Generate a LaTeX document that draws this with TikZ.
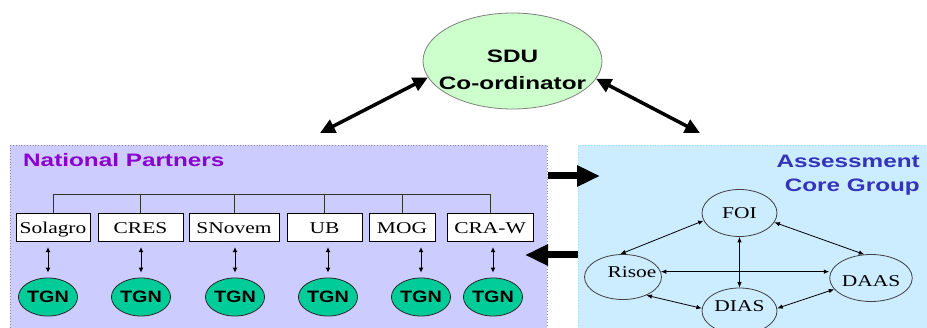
\documentclass[tikz,border=0pt]{standalone}
\usepackage{fontspec}
\setmainfont{Liberation Serif}[FakeStretch=1.3]
\newfontfamily\sfb{Liberation Sans}[FakeStretch=1.35]
\newfontfamily\tgnfont{Liberation Sans}[FakeStretch=1.2]
\usetikzlibrary{shapes.geometric,arrows.meta}
\definecolor{npfill}{HTML}{CCCCFF}
\definecolor{acgfill}{HTML}{CCECFF}
\definecolor{sdufill}{HTML}{CCFFCC}
\definecolor{tgnfill}{HTML}{00CC99}
\definecolor{nptitle}{HTML}{8A00CC}
\definecolor{acgtitle}{HTML}{3333BB}
\tikzset{
  panel/.style={rectangle, anchor=north west, inner sep=0pt, dotted, line width=0.8pt},
  pbox/.style={rectangle, draw=black, line width=0.8pt, fill=white, minimum height=28.5pt,
    inner sep=0pt, text height=13pt, text depth=0pt, font=\fontsize{16.5}{18}\selectfont},
  tgn/.style={ellipse, draw=black!85, line width=0.8pt, fill=tgnfill, inner sep=0pt,
    minimum width=59pt, minimum height=38pt, font=\tgnfont\bfseries\fontsize{16.5}{18}\selectfont},
  gnode/.style={ellipse, draw=black!75, line width=0.8pt, inner sep=0pt,
    minimum width=75pt, minimum height=47pt, font=\fontsize{16.5}{18}\selectfont},
  sarr/.style={line width=1pt, {Latex[length=5pt,width=5pt]}-{Latex[length=5pt,width=5pt]}},
  garr/.style={line width=0.8pt, {Latex[length=5.5pt,width=4.5pt]}-{Latex[length=5.5pt,width=4.5pt]}},
  sduarr/.style={line width=3.5pt, {Triangle[length=15pt,width=14pt]}-{Triangle[length=15pt,width=14pt]}},
  bigarr/.style={line width=7pt, -{Triangle[length=23pt,width=20pt]}},
  titlefont/.style={font=\sfb\bfseries\fontsize{18}{24}\selectfont}
}
\begin{document}
\begin{tikzpicture}[x=1pt,y=-1pt]
\clip (0,0) rectangle (927,328);
\fill[white] (0,0) rectangle (927,328);

% panels
\node[panel, draw=black!45, fill=npfill, minimum width=537pt, minimum height=195pt] (NP) at (10,145) {};
\node[panel, draw=cyan!40, fill=acgfill, minimum width=360pt, minimum height=195pt] (ACG) at (578,145) {};

% titles
\node[titlefont, text=nptitle, anchor=base west, inner sep=0pt] (NPt) at (23,167) {National Partners};
\node[titlefont, text=acgtitle, anchor=north east, inner sep=0pt, align=right] (ACGt) at (920,155) {Assessment\\Core Group};

% SDU
\node[ellipse, draw=black!50, line width=0.8pt, fill=sdufill, minimum width=179pt, minimum height=96pt, inner sep=0pt] (SDU) at (512.5,61) {};
\node[anchor=north, inner sep=0pt, align=center, font=\sfb\bfseries\fontsize{18}{27}\selectfont] (SDUt) at (512.5,50) {SDU\\Co-ordinator};
\coordinate (npT) at (320,133);
\coordinate (acT) at (700,133);
\draw[sduarr] (npT) -- (SDU.191);
\draw[sduarr] (SDU.348) -- (acT);

% big arrows between panels
\coordinate (rA) at (600,176);
\coordinate (lA) at (525,255);
\draw[bigarr] (NP.east |- rA) -- (rA);
\draw[bigarr] (ACG.west |- lA) -- (lA);

% partner boxes
\node[pbox, minimum width=74pt] (B1) at (53,227.5) {Solagro};
\node[pbox, minimum width=85pt] (B2) at (140.5,227.5) {CRES};
\node[pbox, minimum width=90pt] (B3) at (234,227.5) {SNovem};
\node[pbox, minimum width=75pt] (B4) at (324.5,227.5) {UB};
\node[pbox, minimum width=66pt] (B5) at (402,227.5) {MOG};
\node[pbox, minimum width=86pt] (B6) at (490,227.5) {CRA-W};

% tree
\coordinate (bus) at (0,194);
\draw[line width=0.8pt, black!80] (B1.north |- bus) -- (B6.north |- bus);
\foreach \b in {B1,B2,B3,B4,B5,B6}{
  \draw[line width=0.8pt, black!80] (\b.north) -- (\b.north |- bus);
}

% TGN ellipses
\node[tgn] (T1) at (48,297) {TGN};
\node[tgn] (T2) at (141,297) {TGN};
\node[tgn] (T3) at (235,297) {TGN};
\node[tgn] (T4) at (328,297) {TGN};
\node[tgn] (T5) at (421,297) {TGN};
\node[tgn] (T6) at (493,297) {TGN};

\foreach \i in {1,...,6}{
  \draw[sarr, shorten <=5pt, shorten >=5pt] (T\i.north |- B\i.south) -- (T\i.north);
}

% assessment core group graph
\node[gnode, text height=11pt, text depth=0pt] (FOI) at (739.5,213) {FOI};
\node[gnode, minimum width=77pt, minimum height=45pt, text height=11pt, text depth=10pt] (Risoe) at (623,277) {\makebox[0pt]{\hspace{18pt}Risoe}};
\node[gnode, text height=18pt, text depth=0pt] (DAAS) at (871,278) {DAAS};
\node[gnode, minimum height=46pt, text height=11pt, text depth=9pt] (DIAS) at (739.5,311) {DIAS};

\draw[garr] (FOI.192) -- (Risoe.97);
\draw[garr] (FOI.345) -- (DAAS.106);
\draw[garr] (FOI.south) -- (DIAS.north);
\draw[garr] (Risoe.8) -- (Risoe.8 -| DAAS.west);
\draw[garr] (Risoe.322) -- (DIAS.176);
\draw[garr] (DIAS.4) -- (DAAS.197);
\end{tikzpicture}
\end{document}
